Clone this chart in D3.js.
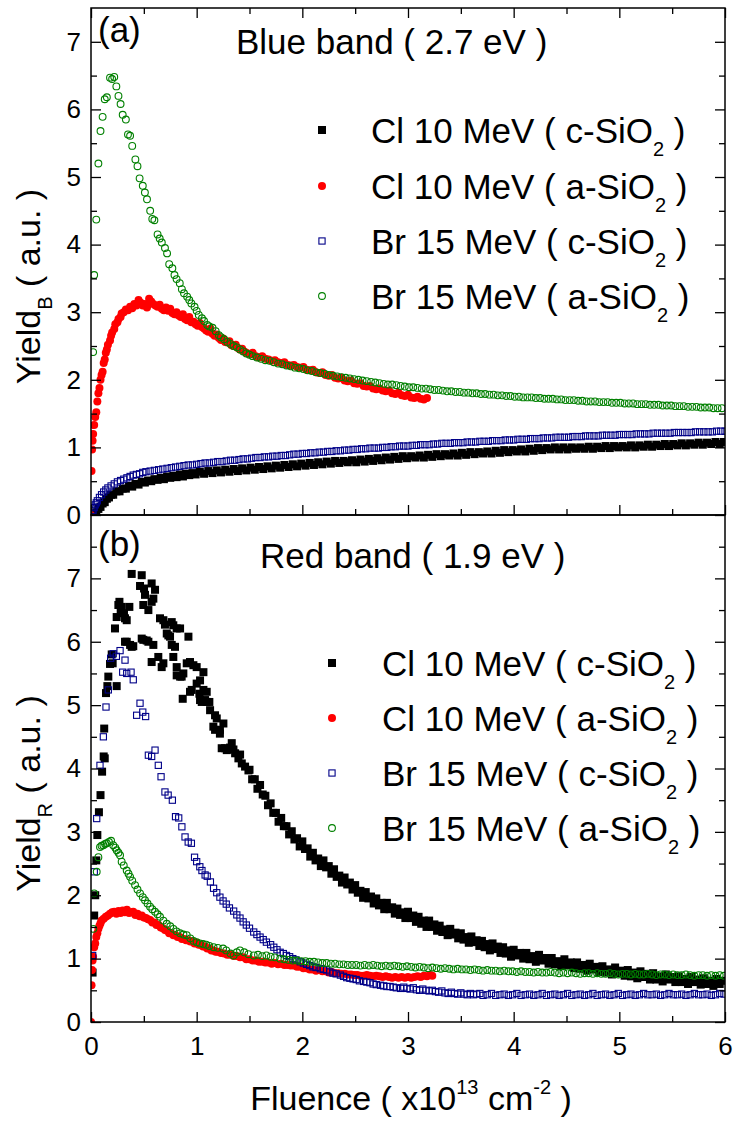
<!DOCTYPE html>
<html>
<head>
<meta charset="utf-8">
<script src="https://cdn.jsdelivr.net/npm/d3@7"></script>
<style>
  body { margin: 0; background: #fff; }
  text { font-family: "Liberation Sans", Arial, sans-serif; white-space: pre; }
</style>
</head>
<body>
<div id="chart"></div>
<script>

// (a) blue band 2.7 eV
const blueClC = [[0.03,0.00],[0.05,0.04],[0.07,0.09],[0.09,0.12],[0.11,0.17],[0.13,0.19],[0.15,0.24],[0.17,0.26],[0.19,0.30],[0.21,0.30],[0.24,0.35],[0.27,0.35],[0.30,0.39],[0.33,0.39],[0.36,0.43],[0.39,0.42],[0.42,0.46],[0.45,0.45],[0.48,0.49],[0.51,0.48],[0.54,0.51],[0.57,0.50],[0.60,0.53],[0.63,0.52],[0.66,0.55],[0.69,0.53],[0.72,0.57],[0.75,0.55],[0.78,0.58],[0.81,0.56],[0.84,0.60],[0.87,0.57],[0.90,0.61],[0.93,0.59],[0.96,0.62],[0.99,0.60],
  [1.03,0.64],[1.07,0.61],[1.11,0.65],[1.15,0.62],[1.19,0.66],[1.23,0.63],[1.27,0.67],[1.31,0.64],[1.35,0.68],[1.39,0.65],[1.43,0.69],[1.47,0.66],[1.51,0.70],[1.55,0.67],[1.59,0.71],[1.63,0.68],[1.67,0.72],[1.71,0.69],[1.75,0.73],[1.79,0.70],[1.83,0.74],[1.87,0.71],[1.91,0.75],[1.95,0.72],[1.99,0.76],[2.03,0.73],[2.07,0.77],[2.11,0.74],[2.15,0.78],[2.19,0.75],[2.23,0.79],[2.27,0.76],[2.31,0.80],[2.35,0.77],[2.39,0.80],[2.43,0.78],[2.47,0.81],[2.51,0.78],[2.55,0.82],[2.59,0.79],[2.63,0.83],[2.67,0.80],[2.71,0.84],[2.75,0.81],[2.79,0.85],[2.83,0.82],[2.87,0.86],[2.91,0.83],[2.95,0.87],[2.99,0.84],
  [3.03,0.87],[3.07,0.85],[3.11,0.88],[3.15,0.85],[3.19,0.89],[3.23,0.86],[3.27,0.90],[3.31,0.87],[3.35,0.90],[3.39,0.88],[3.43,0.91],[3.47,0.88],[3.51,0.92],[3.55,0.89],[3.59,0.93],[3.63,0.90],[3.67,0.93],[3.71,0.91],[3.75,0.94],[3.79,0.91],[3.83,0.95],[3.87,0.92],[3.91,0.96],[3.95,0.93],[3.99,0.96],[4.03,0.94],[4.07,0.97],[4.11,0.94],[4.15,0.98],[4.19,0.95],[4.23,0.99],[4.27,0.96],[4.31,0.99],[4.35,0.97],[4.39,1.00],[4.43,0.97],[4.47,1.00],[4.51,0.97],[4.55,1.00],[4.59,0.98],[4.63,1.00],[4.67,0.98],[4.71,1.01],[4.75,0.98],[4.79,1.01],[4.83,0.99],[4.87,1.02],[4.91,0.99],[4.95,1.02],[4.99,1.00],
  [5.03,1.02],[5.07,1.00],[5.11,1.03],[5.15,1.00],[5.19,1.03],[5.23,1.01],[5.27,1.04],[5.31,1.01],[5.35,1.04],[5.39,1.02],[5.43,1.05],[5.47,1.02],[5.51,1.05],[5.55,1.03],[5.59,1.06],[5.63,1.03],[5.67,1.06],[5.71,1.04],[5.75,1.07],[5.79,1.04],[5.83,1.07],[5.87,1.05],[5.91,1.08],[5.95,1.05],[5.99,1.08]]

const blueClA = [[0.00,0.00],[0.005,0.65],[0.01,0.97],[0.015,1.10],[0.02,1.20],[0.03,1.33],[0.04,1.45],[0.05,1.52],[0.06,1.68],[0.07,1.80],[0.08,1.88],[0.09,2.00],[0.10,2.07],[0.11,2.12],[0.12,2.25],[0.13,2.30],[0.14,2.40],[0.15,2.45],[0.16,2.52],[0.18,2.58],[0.19,2.65],[0.20,2.70],[0.22,2.75],[0.23,2.82],[0.25,2.85],[0.26,2.90],[0.28,2.93],[0.29,2.98],[0.31,3.00],[0.33,3.04],[0.35,3.03],[0.37,3.08],[0.39,3.06],[0.41,3.12],[0.43,3.10],[0.45,3.18],[0.47,3.14],[0.49,3.10],[0.51,3.12],[0.53,3.07],[0.55,3.20],[0.57,3.16],[0.59,3.12],[0.61,3.10],[0.63,3.08],[0.65,3.11],[0.67,3.05],[0.69,3.03],[0.71,3.07],[0.73,3.02],[0.75,3.05],[0.77,2.99],[0.79,2.97],[0.81,3.00],[0.83,2.95],[0.85,2.93],[0.87,2.97],[0.89,2.90],[0.91,2.88],[0.93,2.93],[0.95,2.85],[0.97,2.86],[0.99,2.82],
  [1.01,2.80],[1.03,2.84],[1.05,2.78],[1.07,2.76],[1.09,2.73],[1.11,2.71],[1.13,2.76],[1.15,2.68],[1.17,2.65],[1.19,2.67],[1.21,2.62],[1.23,2.59],[1.25,2.61],[1.27,2.56],[1.29,2.55],[1.31,2.57],[1.33,2.51],[1.35,2.50],[1.37,2.52],[1.39,2.47],[1.41,2.45],[1.43,2.46],[1.45,2.42],[1.47,2.40],[1.50,2.38],[1.53,2.40],[1.56,2.35],[1.59,2.33],[1.62,2.35],[1.65,2.31],[1.68,2.30],[1.71,2.28],[1.74,2.29],[1.77,2.26],[1.80,2.25],[1.83,2.26],[1.86,2.22],[1.89,2.21],[1.92,2.22],[1.95,2.19],[1.98,2.18],
  [2.01,2.19],[2.04,2.15],[2.07,2.14],[2.10,2.15],[2.13,2.11],[2.16,2.10],[2.19,2.11],[2.22,2.07],[2.25,2.06],[2.28,2.07],[2.31,2.03],[2.34,2.02],[2.37,2.03],[2.40,1.99],[2.43,1.98],[2.46,1.99],[2.49,1.95],[2.52,1.94],[2.55,1.95],[2.58,1.91],[2.61,1.90],[2.64,1.91],[2.67,1.87],[2.70,1.86],[2.73,1.87],[2.76,1.84],[2.79,1.83],[2.82,1.84],[2.85,1.80],[2.88,1.79],[2.91,1.81],[2.94,1.77],[2.97,1.76],[3.00,1.78],[3.03,1.74],[3.06,1.73],[3.09,1.75],[3.12,1.72],[3.15,1.71],[3.18,1.73]]

const blueBrC = [[0.01,0.03],[0.02,0.07],[0.03,0.11],[0.04,0.15],[0.05,0.18],[0.06,0.21],[0.08,0.26],[0.10,0.30],[0.12,0.34],[0.14,0.37],[0.16,0.40],[0.19,0.43],[0.22,0.46],[0.25,0.49],[0.28,0.51],[0.31,0.53],[0.34,0.55],[0.37,0.57],[0.40,0.59],[0.43,0.60],[0.46,0.61],[0.49,0.63],[0.52,0.64],[0.56,0.65],[0.60,0.66],[0.64,0.67],[0.68,0.68],[0.72,0.69],[0.76,0.70],[0.80,0.71],[0.84,0.72],[0.88,0.73],[0.92,0.74],[0.96,0.74],
  [1.00,0.75],[1.04,0.76],[1.08,0.77],[1.12,0.77],[1.16,0.78],[1.20,0.79],[1.24,0.79],[1.28,0.80],[1.32,0.81],[1.36,0.81],[1.40,0.82],[1.44,0.83],[1.48,0.83],[1.52,0.84],[1.56,0.85],[1.60,0.85],[1.64,0.86],[1.68,0.86],[1.72,0.87],[1.76,0.87],[1.80,0.88],[1.84,0.88],[1.88,0.89],[1.92,0.90],[1.96,0.90],
  [2.00,0.91],[2.04,0.91],[2.08,0.92],[2.12,0.92],[2.16,0.93],[2.20,0.93],[2.24,0.94],[2.28,0.94],[2.32,0.95],[2.36,0.95],[2.40,0.96],[2.44,0.96],[2.48,0.97],[2.52,0.97],[2.56,0.98],[2.60,0.98],[2.64,0.99],[2.68,0.99],[2.72,0.99],[2.76,1.00],[2.80,1.00],[2.84,1.01],[2.88,1.01],[2.92,1.02],[2.96,1.02],
  [3.00,1.02],[3.04,1.03],[3.08,1.03],[3.12,1.04],[3.16,1.04],[3.20,1.04],[3.24,1.05],[3.28,1.05],[3.32,1.06],[3.36,1.06],[3.40,1.06],[3.44,1.07],[3.48,1.07],[3.52,1.07],[3.56,1.08],[3.60,1.08],[3.64,1.08],[3.68,1.09],[3.72,1.09],[3.76,1.09],[3.80,1.10],[3.84,1.10],[3.88,1.10],[3.92,1.11],[3.96,1.11],
  [4.00,1.11],[4.04,1.12],[4.08,1.12],[4.12,1.12],[4.16,1.13],[4.20,1.13],[4.24,1.13],[4.28,1.14],[4.32,1.14],[4.36,1.14],[4.40,1.15],[4.44,1.15],[4.48,1.15],[4.52,1.15],[4.56,1.16],[4.60,1.16],[4.64,1.16],[4.68,1.17],[4.72,1.17],[4.76,1.17],[4.80,1.17],[4.84,1.18],[4.88,1.18],[4.92,1.18],[4.96,1.18],
  [5.00,1.19],[5.04,1.19],[5.08,1.19],[5.12,1.19],[5.16,1.20],[5.20,1.20],[5.24,1.20],[5.28,1.20],[5.32,1.21],[5.36,1.21],[5.40,1.21],[5.44,1.21],[5.48,1.21],[5.52,1.22],[5.56,1.22],[5.60,1.22],[5.64,1.22],[5.68,1.22],[5.72,1.23],[5.76,1.23],[5.80,1.23],[5.84,1.23],[5.88,1.23],[5.92,1.24],[5.96,1.24],[6.00,1.24]]

const blueBrA = [[0.02,2.41],[0.03,3.55],[0.05,4.37],[0.07,5.20],[0.09,5.68],[0.11,5.89],[0.13,6.15],[0.15,6.18],[0.18,6.47],[0.20,6.45],[0.22,6.48],[0.24,6.34],[0.26,6.20],[0.28,6.08],[0.30,5.92],[0.33,5.85],[0.35,5.63],[0.37,5.61],[0.39,5.46],[0.42,5.26],[0.44,5.16],[0.46,4.98],[0.49,4.87],[0.51,4.77],[0.53,4.67],[0.56,4.50],[0.58,4.38],[0.60,4.36],[0.63,4.15],[0.65,4.09],[0.67,4.03],[0.70,3.95],[0.72,3.87],[0.74,3.71],[0.77,3.65],[0.79,3.55],[0.81,3.49],[0.84,3.43],[0.86,3.34],[0.88,3.28],[0.91,3.23],[0.93,3.18],[0.95,3.13],[0.98,3.08],
  [1.00,3.02],[1.02,2.96],[1.05,2.91],[1.07,2.87],[1.10,2.81],[1.12,2.79],[1.15,2.77],[1.18,2.72],[1.21,2.66],[1.23,2.63],[1.26,2.60],[1.29,2.56],[1.32,2.53],[1.35,2.50],[1.38,2.48],[1.41,2.45],[1.44,2.42],[1.47,2.39],[1.50,2.37],[1.53,2.35],[1.57,2.33],[1.61,2.31],[1.65,2.29],[1.69,2.28],[1.73,2.26],[1.77,2.24],[1.81,2.23],[1.85,2.21],[1.89,2.20],[1.93,2.18],[1.97,2.17],
  [2.01,2.16],[2.05,2.14],[2.09,2.13],[2.13,2.11],[2.17,2.10],[2.21,2.09],[2.25,2.07],[2.29,2.06],[2.33,2.05],[2.37,2.04],[2.41,2.03],[2.45,2.02],[2.49,2.01],[2.53,2.00],[2.57,1.99],[2.61,1.98],[2.65,1.97],[2.69,1.96],[2.73,1.95],[2.77,1.94],[2.81,1.93],[2.85,1.93],[2.89,1.92],[2.93,1.91],[2.97,1.90],
  [3.01,1.89],[3.05,1.89],[3.09,1.88],[3.13,1.87],[3.17,1.87],[3.21,1.86],[3.25,1.85],[3.29,1.85],[3.33,1.84],[3.37,1.83],[3.41,1.83],[3.45,1.82],[3.49,1.82],[3.53,1.81],[3.57,1.81],[3.61,1.80],[3.65,1.80],[3.69,1.79],[3.73,1.79],[3.77,1.78],[3.81,1.78],[3.85,1.77],[3.89,1.77],[3.93,1.76],[3.97,1.76],
  [4.01,1.75],[4.05,1.75],[4.09,1.74],[4.13,1.74],[4.17,1.74],[4.21,1.73],[4.25,1.73],[4.29,1.72],[4.33,1.72],[4.37,1.72],[4.41,1.71],[4.45,1.71],[4.49,1.70],[4.53,1.70],[4.57,1.70],[4.61,1.69],[4.65,1.69],[4.69,1.68],[4.73,1.68],[4.77,1.68],[4.81,1.67],[4.85,1.67],[4.89,1.67],[4.93,1.66],[4.97,1.66],
  [5.01,1.66],[5.05,1.65],[5.09,1.65],[5.13,1.65],[5.17,1.64],[5.21,1.64],[5.25,1.64],[5.29,1.63],[5.33,1.63],[5.37,1.63],[5.41,1.62],[5.45,1.62],[5.49,1.62],[5.53,1.61],[5.57,1.61],[5.61,1.61],[5.65,1.60],[5.69,1.60],[5.73,1.60],[5.77,1.59],[5.81,1.59],[5.85,1.59],[5.89,1.58],[5.93,1.58],[5.97,1.58]]

// (b) red band 1.9 eV
const redClC = [[0.015,0.78],[0.03,1.68],[0.04,2.00],[0.05,2.55],[0.06,2.95],[0.075,3.31],[0.09,3.58],[0.105,3.95],[0.12,4.19],[0.13,4.16],[0.125,4.63],[0.142,5.19],[0.155,5.30],[0.164,5.45],[0.18,5.65],[0.205,5.66],[0.196,5.80],[0.243,5.30],[0.227,6.21],[0.243,6.39],[0.259,6.58],[0.269,6.63],[0.281,6.50],[0.29,6.55],[0.312,6.45],[0.322,6.37],[0.338,6.34],[0.363,6.55],[0.322,6.00],[0.338,6.00],[0.37,5.95],[0.385,5.92],[0.40,5.93],[0.385,7.07],[0.48,7.05],[0.464,6.88],[0.502,6.84],[0.495,6.58],[0.511,6.74],[0.543,6.50],[0.574,6.92],[0.606,6.82],[0.59,6.68],[0.574,6.63],[0.48,6.05],[0.495,6.03],[0.527,6.02],[0.543,6.00],[0.59,5.95],[0.574,5.68],[0.637,5.76],[0.685,5.66],[0.669,5.60],[0.653,6.37],[0.685,6.34],[0.70,6.27],[0.717,6.13],[0.732,6.10],[0.764,6.31],[0.779,6.26],[0.811,6.21],[0.843,6.21],[0.748,6.08],[0.764,5.95],[0.795,5.92],[0.779,5.76],[0.811,5.60],[0.811,5.47],[0.843,5.45],[0.858,5.45],[0.874,5.50],[0.868,5.10],[0.922,6.08],[0.937,5.68],[0.906,5.66],[0.969,5.63],[1.00,5.60],[0.953,5.24],[0.937,5.21],[1.00,5.34],[1.032,5.39],[1.064,5.52],[1.026,5.18],[1.032,5.08],[1.048,5.05],[1.08,5.08],[1.095,5.05],[1.12,5.05],[1.064,5.24],[1.095,5.21],[1.127,4.92],[1.174,4.84],[1.19,4.79],[1.158,4.66],[1.174,4.61],[1.22,4.61],[1.22,4.55],[1.253,4.71],[1.237,4.32],[1.269,4.32],[1.285,4.29],[1.316,4.33],[1.332,4.40],[1.348,4.30],[1.364,4.24],[1.395,4.16],[1.411,4.22],[1.427,4.08],[1.458,4.03],[1.49,3.97],
  [1.500,3.98],[1.525,3.83],[1.550,3.83],[1.575,3.68],[1.600,3.74],[1.625,3.59],[1.650,3.57],[1.675,3.42],[1.700,3.45],[1.725,3.30],[1.750,3.30],[1.775,3.16],[1.800,3.22],[1.825,3.09],[1.850,3.09],[1.875,2.96],[1.900,3.01],[1.925,2.88],[1.950,2.90],[1.975,2.77],
  [2.000,2.85],[2.025,2.73],[2.050,2.74],[2.075,2.61],[2.100,2.67],[2.125,2.55],[2.150,2.58],[2.175,2.46],[2.200,2.55],[2.225,2.44],[2.250,2.46],[2.275,2.34],[2.300,2.41],[2.325,2.29],[2.350,2.31],[2.375,2.20],[2.400,2.28],[2.425,2.17],[2.450,2.20],[2.475,2.09],[2.500,2.16],[2.525,2.04],[2.550,2.07],[2.575,1.96],[2.600,2.05],[2.625,1.95],[2.650,1.98],[2.675,1.87],[2.700,1.95],[2.725,1.84],[2.750,1.88],[2.775,1.78],[2.800,1.88],[2.825,1.78],[2.850,1.81],[2.875,1.71],[2.900,1.79],[2.925,1.69],[2.950,1.73],[2.975,1.64],
  [3.000,1.74],[3.025,1.64],[3.050,1.68],[3.075,1.58],[3.100,1.66],[3.125,1.55],[3.150,1.60],[3.175,1.50],[3.200,1.60],[3.225,1.50],[3.250,1.54],[3.275,1.44],[3.300,1.52],[3.325,1.42],[3.350,1.46],[3.375,1.37],[3.400,1.47],[3.425,1.38],[3.450,1.41],[3.475,1.32],[3.500,1.40],[3.525,1.30],[3.550,1.34],[3.575,1.25],[3.600,1.35],[3.625,1.26],[3.650,1.29],[3.675,1.20],[3.700,1.28],[3.725,1.18],[3.750,1.23],[3.775,1.13],[3.800,1.24],[3.825,1.15],[3.850,1.19],[3.875,1.09],[3.900,1.18],[3.925,1.08],[3.950,1.13],[3.975,1.03],
  [4.00,1.14],[4.03,1.05],[4.06,1.09],[4.09,1.00],[4.12,1.09],[4.15,0.99],[4.18,1.04],[4.21,0.95],[4.24,1.06],[4.27,0.97],[4.30,1.01],[4.33,0.92],[4.36,1.01],[4.39,0.91],[4.42,0.96],[4.45,0.88],[4.48,0.99],[4.51,0.90],[4.54,0.94],[4.57,0.85],[4.60,0.94],[4.63,0.84],[4.66,0.90],[4.69,0.81],[4.72,0.92],[4.75,0.83],[4.78,0.87],[4.81,0.79],[4.84,0.88],[4.87,0.78],[4.90,0.83],[4.93,0.75],[4.96,0.86],[4.99,0.77],
  [5.02,0.81],[5.05,0.73],[5.08,0.82],[5.11,0.72],[5.14,0.78],[5.17,0.69],[5.20,0.80],[5.23,0.71],[5.26,0.76],[5.29,0.67],[5.32,0.77],[5.35,0.67],[5.38,0.72],[5.41,0.64],[5.44,0.75],[5.47,0.67],[5.50,0.71],[5.53,0.63],[5.56,0.72],[5.59,0.63],[5.62,0.68],[5.65,0.60],[5.68,0.71],[5.71,0.63],[5.74,0.67],[5.77,0.59],[5.80,0.69],[5.83,0.60],[5.86,0.65],[5.89,0.57],[5.92,0.68],[5.95,0.60],[5.98,0.65]]

const redClA = [[0.00,0.00],[0.005,0.58],[0.01,0.82],[0.015,0.97],[0.02,1.03],[0.03,1.18],[0.04,1.24],[0.05,1.34],[0.06,1.40],[0.07,1.47],[0.08,1.52],[0.09,1.56],[0.10,1.60],[0.12,1.63],[0.14,1.66],[0.16,1.68],[0.18,1.71],[0.20,1.73],[0.22,1.74],[0.24,1.71],[0.26,1.75],[0.28,1.72],[0.30,1.76],[0.32,1.73],[0.34,1.77],[0.36,1.72],[0.38,1.73],[0.40,1.74],[0.42,1.69],[0.44,1.71],[0.46,1.67],[0.48,1.68],[0.50,1.65],[0.52,1.64],[0.54,1.62],[0.56,1.61],[0.58,1.57],[0.60,1.57],[0.62,1.53],[0.64,1.53],[0.66,1.49],[0.68,1.48],[0.70,1.45],[0.72,1.44],[0.74,1.40],[0.76,1.40],[0.78,1.37],[0.80,1.37],[0.82,1.34],[0.84,1.34],[0.86,1.31],[0.88,1.31],[0.90,1.29],[0.92,1.29],[0.94,1.27],[0.96,1.27],[0.98,1.24],
  [1.00,1.25],[1.02,1.22],[1.04,1.22],[1.06,1.19],[1.08,1.19],[1.10,1.16],[1.12,1.16],[1.14,1.13],[1.16,1.13],[1.18,1.11],[1.20,1.11],[1.23,1.09],[1.26,1.08],[1.29,1.06],[1.32,1.06],[1.35,1.04],[1.38,1.04],[1.41,1.02],[1.44,1.02],[1.47,0.99],[1.50,0.99],[1.53,0.97],[1.56,0.97],[1.59,0.95],[1.62,0.95],[1.65,0.94],[1.68,0.94],[1.71,0.92],[1.74,0.93],[1.77,0.91],[1.80,0.92],[1.83,0.90],[1.86,0.90],[1.89,0.89],[1.92,0.89],[1.95,0.87],[1.98,0.87],
  [2.01,0.85],[2.04,0.85],[2.07,0.83],[2.10,0.83],[2.13,0.81],[2.16,0.82],[2.19,0.80],[2.22,0.80],[2.25,0.78],[2.28,0.79],[2.31,0.77],[2.34,0.77],[2.37,0.76],[2.40,0.76],[2.43,0.75],[2.46,0.75],[2.49,0.74],[2.52,0.74],[2.55,0.73],[2.58,0.73],[2.61,0.74],[2.64,0.73],[2.67,0.72],[2.70,0.73],[2.73,0.72],[2.76,0.71],[2.79,0.72],[2.82,0.71],[2.85,0.70],[2.88,0.71],[2.91,0.70],[2.94,0.71],[2.97,0.70],
  [3.00,0.71],[3.03,0.70],[3.06,0.71],[3.09,0.72],[3.12,0.71],[3.15,0.73],[3.18,0.72],[3.21,0.74],[3.23,0.73]]

const redBrC = [[0.016,1.05],[0.031,2.37],[0.054,3.21],[0.085,4.05],[0.117,4.50],[0.142,4.97],[0.164,5.24],[0.186,5.74],[0.21,5.81],[0.24,5.77],[0.275,5.86],[0.30,5.52],[0.322,5.71],[0.338,5.50],[0.379,5.52],[0.40,5.40],[0.432,4.84],[0.464,5.03],[0.49,4.89],[0.517,4.82],[0.543,4.21],[0.574,4.19],[0.606,4.29],[0.637,4.05],[0.663,3.87],[0.70,3.63],[0.73,3.58],[0.77,3.50],[0.80,3.24],[0.83,3.22],[0.86,3.08],[0.89,2.92],[0.92,2.84],[0.95,2.82],[0.98,2.60],
  [1.00,2.53],[1.03,2.45],[1.05,2.39],[1.08,2.32],[1.10,2.30],[1.13,2.21],[1.16,2.11],[1.19,2.04],[1.22,1.97],[1.25,1.91],[1.28,1.86],[1.31,1.80],[1.35,1.75],[1.38,1.69],[1.41,1.64],[1.44,1.58],[1.47,1.53],[1.50,1.48],[1.54,1.42],[1.57,1.38],[1.60,1.34],[1.63,1.30],[1.66,1.26],[1.70,1.22],[1.73,1.18],[1.76,1.14],[1.79,1.10],[1.82,1.08],[1.85,1.05],[1.88,1.03],[1.91,1.00],[1.94,0.98],[1.98,0.95],
  [2.01,0.93],[2.04,0.91],[2.07,0.89],[2.10,0.87],[2.13,0.86],[2.17,0.84],[2.20,0.83],[2.23,0.82],[2.26,0.79],[2.29,0.77],[2.32,0.76],[2.36,0.74],[2.39,0.72],[2.42,0.70],[2.45,0.69],[2.48,0.68],[2.51,0.67],[2.54,0.65],[2.58,0.64],[2.61,0.63],[2.64,0.62],[2.67,0.60],[2.70,0.59],[2.74,0.58],[2.77,0.57],[2.80,0.56],[2.83,0.56],[2.86,0.55],[2.89,0.54],[2.93,0.53],[2.96,0.55],
  [2.99,0.53],[3.02,0.52],[3.05,0.54],[3.08,0.51],[3.11,0.50],[3.14,0.52],[3.17,0.50],[3.20,0.49],[3.23,0.50],[3.26,0.48],[3.29,0.47],[3.32,0.49],[3.35,0.46],[3.38,0.45],[3.41,0.47],[3.44,0.45],[3.47,0.44],[3.50,0.46],[3.53,0.44],[3.56,0.43],[3.59,0.45],[3.62,0.43],[3.65,0.44],[3.68,0.45],[3.71,0.42],[3.75,0.43],[3.79,0.45],[3.83,0.42],[3.87,0.43],[3.91,0.44],[3.95,0.42],[3.99,0.43],
  [4.03,0.45],[4.07,0.42],[4.11,0.43],[4.15,0.44],[4.19,0.42],[4.23,0.43],[4.27,0.45],[4.31,0.42],[4.35,0.43],[4.39,0.44],[4.43,0.42],[4.47,0.43],[4.51,0.45],[4.55,0.42],[4.59,0.43],[4.63,0.44],[4.67,0.42],[4.71,0.43],[4.75,0.45],[4.79,0.42],[4.83,0.43],[4.87,0.44],[4.91,0.42],[4.95,0.43],[4.99,0.45],
  [5.03,0.42],[5.07,0.43],[5.11,0.44],[5.15,0.42],[5.19,0.43],[5.23,0.45],[5.27,0.43],[5.31,0.43],[5.35,0.44],[5.39,0.42],[5.43,0.43],[5.47,0.45],[5.51,0.43],[5.55,0.43],[5.59,0.44],[5.63,0.42],[5.67,0.43],[5.71,0.45],[5.75,0.43],[5.79,0.43],[5.83,0.44],[5.87,0.42],[5.91,0.43],[5.95,0.45],[5.99,0.44]]

const redBrA = [[0.022,1.47],[0.03,2.03],[0.054,2.37],[0.07,2.60],[0.085,2.76],[0.10,2.78],[0.117,2.79],[0.133,2.81],[0.149,2.82],[0.17,2.84],[0.19,2.86],[0.21,2.79],[0.23,2.75],[0.243,2.71],[0.26,2.67],[0.275,2.63],[0.29,2.53],[0.31,2.47],[0.338,2.39],[0.355,2.34],[0.37,2.29],[0.39,2.23],[0.417,2.16],[0.44,2.09],[0.464,2.03],[0.49,1.97],[0.511,1.92],[0.535,1.87],[0.559,1.82],[0.58,1.78],[0.606,1.74],[0.63,1.70],[0.653,1.66],[0.685,1.60],[0.717,1.55],[0.75,1.51],[0.78,1.47],[0.81,1.43],[0.843,1.40],[0.875,1.38],[0.906,1.37],[0.94,1.32],[0.97,1.28],
  [1.00,1.26],[1.03,1.24],[1.06,1.23],[1.09,1.22],[1.12,1.20],[1.16,1.18],[1.20,1.17],[1.25,1.16],[1.28,1.13],[1.32,1.08],[1.35,1.05],[1.38,1.10],[1.41,1.13],[1.45,1.10],[1.49,1.07],[1.54,1.05],[1.58,1.06],[1.62,1.04],[1.66,1.05],[1.70,1.03],[1.74,1.02],[1.79,1.00],[1.83,0.99],[1.87,0.98],[1.91,0.97],[1.95,0.97],[1.99,0.96],
  [2.03,0.96],[2.07,0.95],[2.11,0.95],[2.15,0.94],[2.19,0.93],[2.23,0.93],[2.27,0.92],[2.31,0.92],[2.35,0.91],[2.39,0.91],[2.43,0.90],[2.47,0.90],[2.51,0.90],[2.55,0.89],[2.59,0.90],[2.63,0.89],[2.67,0.90],[2.71,0.89],[2.75,0.88],[2.79,0.89],[2.83,0.88],[2.87,0.89],[2.91,0.88],[2.95,0.87],[2.99,0.88],
  [3.03,0.87],[3.07,0.86],[3.11,0.87],[3.15,0.86],[3.19,0.85],[3.23,0.86],[3.27,0.85],[3.31,0.84],[3.35,0.85],[3.39,0.84],[3.43,0.83],[3.47,0.84],[3.51,0.83],[3.55,0.83],[3.59,0.82],[3.63,0.83],[3.67,0.82],[3.71,0.81],[3.75,0.82],[3.79,0.81],[3.83,0.81],[3.87,0.80],[3.91,0.81],[3.95,0.80],[3.99,0.80],
  [4.03,0.79],[4.07,0.80],[4.11,0.79],[4.15,0.79],[4.19,0.78],[4.23,0.79],[4.27,0.78],[4.31,0.78],[4.35,0.79],[4.39,0.78],[4.43,0.77],[4.47,0.78],[4.51,0.77],[4.55,0.78],[4.59,0.77],[4.63,0.76],[4.67,0.77],[4.71,0.77],[4.75,0.76],[4.79,0.77],[4.83,0.76],[4.87,0.76],[4.91,0.77],[4.95,0.76],[4.99,0.75],
  [5.03,0.76],[5.07,0.76],[5.11,0.75],[5.15,0.76],[5.19,0.75],[5.23,0.75],[5.27,0.76],[5.31,0.75],[5.35,0.74],[5.39,0.75],[5.43,0.75],[5.47,0.74],[5.51,0.75],[5.55,0.74],[5.59,0.74],[5.63,0.75],[5.67,0.74],[5.71,0.73],[5.75,0.74],[5.79,0.74],[5.83,0.73],[5.87,0.74],[5.91,0.73],[5.95,0.74],[5.99,0.73]]

// ---- labels / ticks ----
const ionNames = ['Cl 10 MeV', 'Cl 10 MeV', 'Br 15 MeV', 'Br 15 MeV']
const phaseNames = ['c', 'a', 'c', 'a']
const xTicks = [0, 1, 2, 3, 4, 5, 6]
const xMinor = [0.5, 1.5, 2.5, 3.5, 4.5, 5.5]
const yTicks = [0, 1, 2, 3, 4, 5, 6, 7]
const yMinor = [0.5, 1.5, 2.5, 3.5, 4.5, 5.5, 6.5, 7.5]

const cfg = {
    w: 733,
    h: 1126,
    left: 91,
    right: 725,
    font: 26,
    big: 35
}

// marker styles, legend order
const styles = [
    { shape: 'square', fill: '#000000', stroke: 'none', size: 8 },
    { shape: 'circle', fill: '#ff0000', stroke: 'none', size: 8 },
    { shape: 'square', fill: 'none', stroke: '#000088', size: 6.2 },
    { shape: 'circle', fill: 'none', stroke: '#008000', size: 6.8 }
]

const svg = d3.select('#chart')
    .append('svg')
    .attr('width', cfg.w)
    .attr('height', cfg.h)

const x = d3.scaleLinear().domain([0, 6]).range([cfg.left, cfg.right])

function addMarks(layer, data, st, xf, yf) {
    const g = layer.append('g')
    if (st.shape === 'square') {
        g.selectAll('rect').data(data).enter()
            .append('rect')
            .attr('x', d => xf(d) - st.size / 2)
            .attr('y', d => yf(d) - st.size / 2)
            .attr('width', st.size)
            .attr('height', st.size)
            .attr('fill', st.fill)
            .attr('stroke', st.stroke)
            .attr('stroke-width', 1.1)
    } else {
        g.selectAll('circle').data(data).enter()
            .append('circle')
            .attr('cx', xf)
            .attr('cy', yf)
            .attr('r', st.size / 2)
            .attr('fill', st.fill)
            .attr('stroke', st.stroke)
            .attr('stroke-width', 1.1)
    }
}

function styleAxis(sel, fontSize) {
    sel.select('.domain').remove()
    sel.selectAll('line').attr('stroke', '#000').attr('stroke-width', 1.3)
    sel.selectAll('text')
        .attr('fill', '#000')
        .attr('font-size', fontSize)
        .attr('font-family', '"Liberation Sans", Arial, sans-serif')
}

function drawPanel(p) {
    const y = d3.scaleLinear().domain([0, p.ymax]).range([p.bottom, p.top])

    svg.append('clipPath').attr('id', 'clip-' + p.id)
        .append('rect')
        .attr('x', cfg.left).attr('y', p.top)
        .attr('width', cfg.right - cfg.left).attr('height', p.bottom - p.top)

    // data
    const plot = svg.append('g').attr('clip-path', `url(#clip-${p.id})`)
    p.series.forEach((s, i) => addMarks(plot, s, styles[i], d => x(d[0]), d => y(d[1])))

    // left axis
    svg.append('g').attr('transform', `translate(${cfg.left},0)`)
        .call(d3.axisLeft(y).tickValues(yTicks).tickSize(-10).tickPadding(10).tickFormat(d3.format('d')))
        .call(styleAxis, cfg.font)
    svg.append('g').attr('transform', `translate(${cfg.left},0)`)
        .call(d3.axisLeft(y).tickValues(yMinor.filter(v => v < p.ymax)).tickSize(-6).tickFormat(''))
        .call(styleAxis, cfg.font)

    // right axis
    svg.append('g').attr('transform', `translate(${cfg.right},0)`)
        .call(d3.axisRight(y).tickValues(yTicks).tickSize(-10).tickFormat(''))
        .call(styleAxis, cfg.font)
    svg.append('g').attr('transform', `translate(${cfg.right},0)`)
        .call(d3.axisRight(y).tickValues(yMinor.filter(v => v < p.ymax)).tickSize(-6).tickFormat(''))
        .call(styleAxis, cfg.font)

    // bottom axis
    svg.append('g').attr('transform', `translate(0,${p.bottom})`)
        .call(d3.axisBottom(x).tickValues(xTicks).tickSize(-10).tickPadding(15)
            .tickFormat(p.xLabels ? d3.format('d') : ''))
        .call(styleAxis, cfg.font)
    svg.append('g').attr('transform', `translate(0,${p.bottom})`)
        .call(d3.axisBottom(x).tickValues(xMinor).tickSize(-6).tickFormat(''))
        .call(styleAxis, cfg.font)

    // top axis
    if (p.topTicks) {
        svg.append('g').attr('transform', `translate(0,${p.top})`)
            .call(d3.axisTop(x).tickValues(xTicks).tickSize(-10).tickFormat(''))
            .call(styleAxis, cfg.font)
        svg.append('g').attr('transform', `translate(0,${p.top})`)
            .call(d3.axisTop(x).tickValues(xMinor).tickSize(-6).tickFormat(''))
            .call(styleAxis, cfg.font)
    }

    // frame
    svg.append('rect')
        .attr('x', cfg.left).attr('y', p.top)
        .attr('width', cfg.right - cfg.left).attr('height', p.bottom - p.top)
        .attr('fill', 'none').attr('stroke', '#000').attr('stroke-width', 1.5)

    // panel letter and band name
    svg.append('text').attr('x', 98).attr('y', p.letterY)
        .attr('font-size', cfg.big).text(p.letter)
    svg.append('text').attr('x', p.bandX).attr('y', p.bandY)
        .attr('font-size', cfg.big).text(p.band)

    // legend
    p.legendRows.forEach((ry, i) => {
        const st = styles[i]
        addMarks(svg, [0], st, () => p.legendX, () => ry)
        const t = svg.append('text')
            .attr('x', p.legendTextX).attr('y', ry + 13)
            .attr('font-size', cfg.big)
        t.append('tspan').text(`${ionNames[i]} ( ${phaseNames[i]}-SiO`)
        t.append('tspan').attr('font-size', 20).attr('dy', 13).text('2')
        t.append('tspan').attr('dy', -13).text(' )')
    })

    // y title
    const yt = svg.append('text')
        .attr('transform', `translate(40,${(p.top + p.bottom) / 2 + 25}) rotate(-90)`)
        .attr('text-anchor', 'middle')
        .attr('font-size', 34)
    yt.append('tspan').text('Yield')
    yt.append('tspan').attr('font-size', 20).attr('dy', 12).text(p.sub)
    yt.append('tspan').attr('dy', -12).text(' ( a.u. )')
}

drawPanel({
    id: 'a', top: 8, bottom: 515, ymax: 7.5,
    series: [blueClC, blueClA, blueBrC, blueBrA],
    topTicks: true, xLabels: false,
    letter: '(a)', letterY: 42,
    band: 'Blue band ( 2.7 eV )', bandX: 236, bandY: 54,
    legendX: 322, legendTextX: 371, legendRows: [130, 186, 241, 296],
    sub: 'B'
})

drawPanel({
    id: 'b', top: 515, bottom: 1022, ymax: 8,
    series: [redClC, redClA, redBrC, redBrA],
    topTicks: false, xLabels: true,
    letter: '(b)', letterY: 556,
    band: 'Red band ( 1.9 eV )', bandX: 260, bandY: 568,
    legendX: 332, legendTextX: 382, legendRows: [663, 718, 773, 828],
    sub: 'R'
})

// x title
const xt = svg.append('text')
    .attr('x', (cfg.left + cfg.right) / 2 + 3)
    .attr('y', 1110)
    .attr('text-anchor', 'middle')
    .attr('font-size', 34)
xt.append('tspan').text('Fluence ( x10')
xt.append('tspan').attr('font-size', 20).attr('dy', -16).text('13')
xt.append('tspan').attr('dy', 16).text(' cm')
xt.append('tspan').attr('font-size', 20).attr('dy', -16).text('-2')
xt.append('tspan').attr('dy', 16).text(' )')
</script>
</body>
</html>
